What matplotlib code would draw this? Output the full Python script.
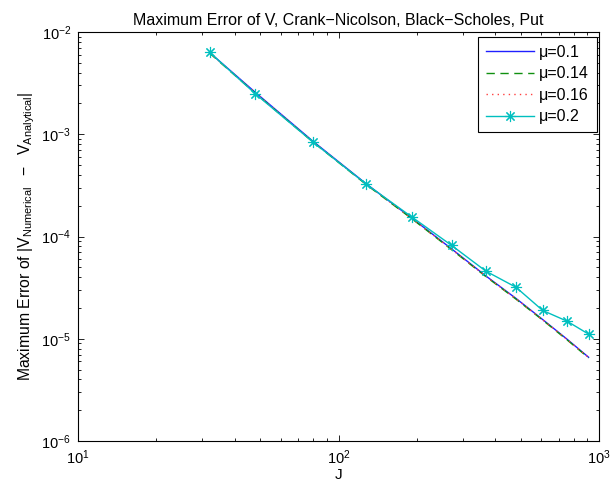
import matplotlib
matplotlib.use("Agg")
import matplotlib.pyplot as plt
from matplotlib.ticker import LogLocator, NullFormatter

plt.rcParams['font.family'] = ['Liberation Sans', 'DejaVu Sans']
plt.rcParams['mathtext.fontset'] = 'custom'
plt.rcParams['mathtext.rm'] = 'Liberation Sans'
plt.rcParams['mathtext.it'] = 'Liberation Sans:italic'
plt.rcParams['mathtext.default'] = 'regular'

# grid sizes J
J = [32, 48, 80, 128, 192, 272, 368, 480, 608, 752, 912]

# maximum error for each mu
err_mu010 = [6.30e-3, 2.56e-3, 8.49e-4, 3.26e-4, 1.50e-4, 7.55e-5, 4.11e-5, 2.48e-5, 1.54e-5, 9.95e-6, 6.59e-6]
err_mu014 = [6.22e-3, 2.51e-3, 8.35e-4, 3.21e-4, 1.48e-4, 7.42e-5, 4.05e-5, 2.44e-5, 1.52e-5, 9.80e-6, 6.50e-6]
err_mu016 = [6.25e-3, 2.53e-3, 8.40e-4, 3.23e-4, 1.49e-4, 7.48e-5, 4.08e-5, 2.46e-5, 1.53e-5, 9.88e-6, 6.55e-6]
err_mu020 = [6.33e-3, 2.48e-3, 8.34e-4, 3.24e-4, 1.54e-4, 8.17e-5, 4.58e-5, 3.19e-5, 1.89e-5, 1.49e-5, 1.11e-5]

labels = ['\u03bc=0.1', '\u03bc=0.14', '\u03bc=0.16', '\u03bc=0.2']

fig = plt.figure(figsize=(6.1, 4.88), dpi=100)
ax = fig.add_axes([0.1279, 0.0963, 0.8541, 0.8381])

ax.loglog(J, err_mu010, '-', color='#2020ff', linewidth=1.0, label=labels[0])
ax.loglog(J, err_mu014, '--', color='#109010', linewidth=1.0, dashes=(6, 4), label=labels[1])
ax.loglog(J, err_mu016, ':', color='#ff4040', linewidth=1.0, dashes=(1, 3), label=labels[2])
ax.loglog(J, err_mu020, '-', color='#00bfbf', linewidth=1.0, marker=(8, 2, 0), markersize=8,
          markeredgewidth=0.8, label=labels[3])

ax.set_xlim(10, 1000)
ax.set_ylim(1e-6, 1e-2)

ax.xaxis.set_major_locator(LogLocator(base=10, numticks=10))
ax.yaxis.set_major_locator(LogLocator(base=10, numticks=10))
ax.xaxis.set_minor_locator(LogLocator(base=10, subs=range(2, 10), numticks=10))
ax.yaxis.set_minor_locator(LogLocator(base=10, subs=range(2, 10), numticks=10))
ax.xaxis.set_minor_formatter(NullFormatter())
ax.yaxis.set_minor_formatter(NullFormatter())

ax.tick_params(which='both', direction='in', top=True, right=True, labelsize=10.5)
ax.tick_params(which='major', length=4, width=0.6, pad=5)
ax.tick_params(which='minor', length=2, width=0.6)
for s in ax.spines.values():
    s.set_linewidth(0.8)

ax.set_title('Maximum Error of V, Crank\u2212Nicolson, Black\u2212Scholes, Put', fontsize=11.5, pad=5)
ax.set_xlabel('J', fontsize=11, labelpad=1)
ax.set_ylabel(r'Maximum Error of $|V_{Numerical}\ \ -\ \ V_{Analytical}|$', fontsize=11.3, labelpad=3)

leg = ax.legend(loc='upper right', bbox_to_anchor=(597 / 610, (488 - 37) / 488),
                bbox_transform=fig.transFigure, borderaxespad=0,
                fontsize=11.5, handlelength=3.0, fancybox=False,
                framealpha=1, edgecolor='black', borderpad=0.5,
                labelspacing=0.4, handletextpad=0.3)
leg.get_frame().set_linewidth(0.8)

fig.savefig('out.png', dpi=100)
